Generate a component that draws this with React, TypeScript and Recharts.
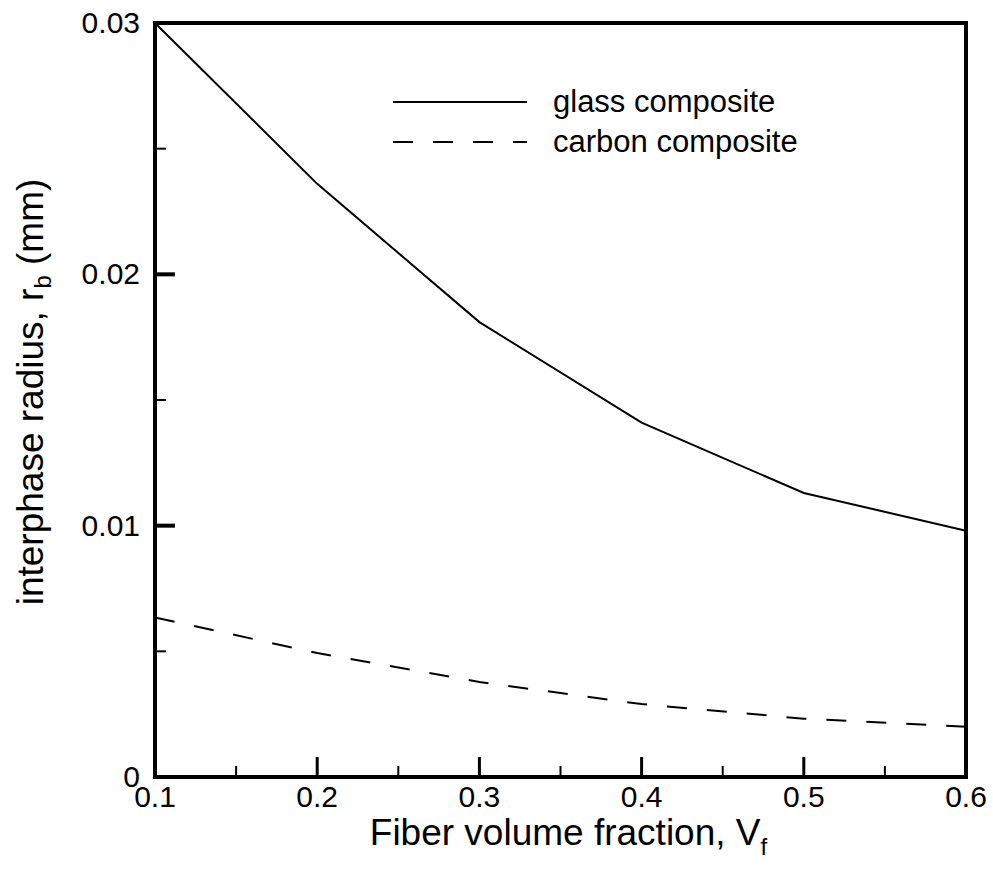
import React from "react";
import { LineChart, Line, XAxis, YAxis, ReferenceArea, Legend } from "recharts";

const fiberVolumeFraction = [0.1, 0.2, 0.3, 0.4, 0.5, 0.6];
const glassRadius = [0.03, 0.0236, 0.0181, 0.0141, 0.0113, 0.0098];
const carbonRadius = [0.00635, 0.00493, 0.00378, 0.0029, 0.00232, 0.002];
const seriesNames = ["glass composite", "carbon composite"];
const xTicks = [0.1, 0.15, 0.2, 0.25, 0.3, 0.35, 0.4, 0.45, 0.5, 0.55, 0.6];
const yTicks = [0, 0.005, 0.01, 0.015, 0.02, 0.025, 0.03];

const data = fiberVolumeFraction.map((v, i) => ({
  vf: v,
  glass: glassRadius[i],
  carbon: carbonRadius[i],
}));

const FONT = '"Liberation Sans", Arial, Helvetica, sans-serif';
const X_MARGIN = 8;
const Y_MARGIN = 15;

const fmt = (v: number) => String(Number(v.toFixed(4)));

const XTick = (props: any) => {
  const { x, y, payload } = props;
  const v = payload.value as number;
  const major = Math.round(v * 100) % 10 === 0;
  const base = y - X_MARGIN;
  return (
    <g>
      <line x1={x} x2={x} y1={base} y2={base - (major ? 20 : 11)} stroke="#000" strokeWidth={major ? 3 : 2} />
      {major && (
        <text x={x} y={y + 22} textAnchor="middle" fontSize={30} fontFamily={FONT} fill="#000">
          {fmt(v)}
        </text>
      )}
    </g>
  );
};

const YTick = (props: any) => {
  const { x, y, payload } = props;
  const v = payload.value as number;
  const major = Math.round(v * 1000) % 10 === 0;
  const base = x + Y_MARGIN;
  return (
    <g>
      <line x1={base} x2={base + (major ? 20 : 11)} y1={y} y2={y} stroke="#000" strokeWidth={major ? 4 : 2} />
      {major && (
        <text x={x} y={y + 10} textAnchor="end" fontSize={30} fontFamily={FONT} fill="#000">
          {fmt(v)}
        </text>
      )}
    </g>
  );
};

const YLabel = (props: any) => {
  const vb = props.viewBox || {};
  const cx = (vb.x ?? 0) + 43;
  const cy = (vb.y ?? 0) + (vb.height ?? 0) / 2 - 8;
  return (
    <text
      x={cx}
      y={cy}
      transform={`rotate(-90, ${cx}, ${cy})`}
      textAnchor="middle"
      fontSize={37}
      fontFamily={FONT}
      fill="#000"
    >
      interphase radius, r
      <tspan fontSize={24} dy={8}>b</tspan>
      <tspan dy={-8}> (mm)</tspan>
    </text>
  );
};

const XLabel = (props: any) => {
  const vb = props.viewBox || {};
  const cx = (vb.x ?? 0) + (vb.width ?? 0) / 2 + 8;
  const cy = (vb.y ?? 0) + 68;
  return (
    <text x={cx} y={cy} textAnchor="middle" fontSize={37} fontFamily={FONT} fill="#000">
      Fiber volume fraction, V
      <tspan fontSize={24} dy={10}>f</tspan>
    </text>
  );
};

const legendDash = ["", "20 20"];

const LegendContent = (props: any) => {
  const payload = props.payload || [];
  const ordered = seriesNames.map((n) => payload.find((p: any) => p.value === n) || { value: n });
  return (
    <div style={{ fontFamily: FONT }}>
      {ordered.map((p: any, i: number) => (
        <div key={i} style={{ display: "flex", alignItems: "center", height: 40 }}>
          <svg width={134} height={40} style={{ display: "block" }}>
            <line x1={0} x2={134} y1={20} y2={20} stroke="#000" strokeWidth={2} strokeDasharray={legendDash[i] || undefined} />
          </svg>
          <span style={{ marginLeft: 26, fontSize: 31, lineHeight: "40px", color: "#000", whiteSpace: "nowrap" }}>
            {p.value}
          </span>
        </div>
      ))}
    </div>
  );
};

export default function App() {
  return (
    <div style={{ position: "absolute", left: 0, top: 0, width: 993, height: 883, background: "#fff" }}>
      <LineChart width={993} height={883} data={data} margin={{ top: 23, right: 27, bottom: 0, left: 0 }}>
        <XAxis
          dataKey="vf"
          type="number"
          domain={[0.1, 0.6]}
          ticks={xTicks}
          interval={0}
          height={106}
          tickSize={0}
          tickMargin={X_MARGIN}
          tickLine={false}
          axisLine={false}
          tick={<XTick />}
          label={<XLabel />}
        />
        <YAxis
          type="number"
          domain={[0, 0.03]}
          ticks={yTicks}
          interval={0}
          width={155}
          tickSize={0}
          tickMargin={Y_MARGIN}
          tickLine={false}
          axisLine={false}
          tick={<YTick />}
          label={<YLabel />}
        />
        <Legend
          layout="vertical"
          align="center"
          verticalAlign="middle"
          content={<LegendContent />}
          wrapperStyle={{ position: "absolute", left: 393, top: 82, width: 450 }}
        />
        <Line
          type="linear"
          dataKey="glass"
          name={seriesNames[0]}
          stroke="#000"
          strokeWidth={2}
          dot={false}
          isAnimationActive={false}
        />
        <Line
          type="linear"
          dataKey="carbon"
          name={seriesNames[1]}
          stroke="#000"
          strokeWidth={2}
          strokeDasharray="20 20"
          dot={false}
          isAnimationActive={false}
        />
        <ReferenceArea
          x1={0.1}
          x2={0.6}
          y1={0}
          y2={0.03}
          fill="none"
          stroke="#000"
          strokeWidth={4}
          ifOverflow="visible"
        />
      </LineChart>
    </div>
  );
}
